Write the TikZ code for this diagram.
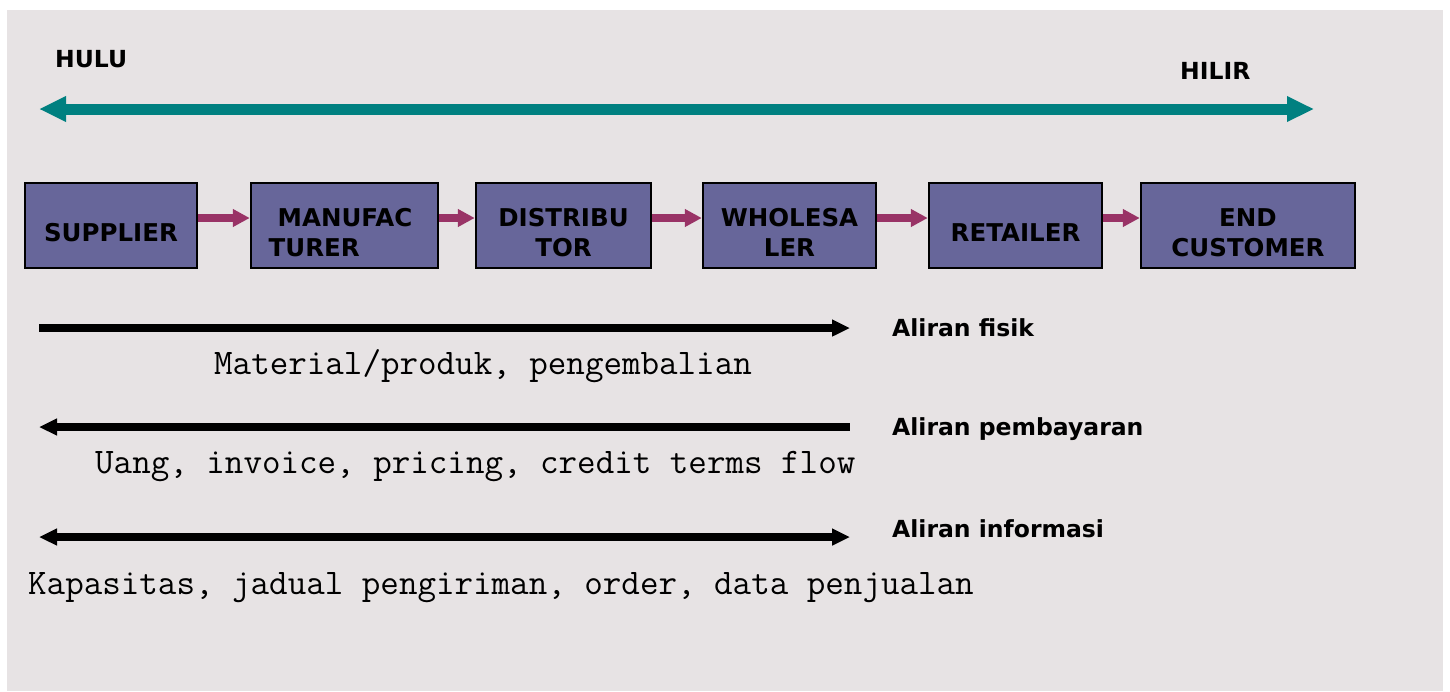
\documentclass[tikz,border=0pt]{standalone}
\usepackage{fontspec}
\setmainfont{DejaVu Sans}
\usetikzlibrary{arrows.meta}
\definecolor{panel}{HTML}{E7E3E4}
\definecolor{axisteal}{HTML}{008080}
\definecolor{flowpink}{HTML}{993366}
\definecolor{boxfill}{HTML}{67669A}
\tikzset{
  flowtip/.tip={Triangle[length=18pt,width=16pt]},
  axistip/.tip={Triangle[length=27pt,width=24pt]},
  stagebox/.style={draw=black, line width=2.5pt, fill=boxfill, inner sep=0pt},
  stagetext/.style={font=\fontsize{24.5}{30}\selectfont\bfseries, align=center, inner sep=0pt},
  steplink/.style={draw=flowpink, line width=8pt, -{Triangle[length=17pt,width=17pt]}},
  flowline/.style={draw=black, line width=8pt},
  flowname/.style={font=\fontsize{23.5}{26}\selectfont\bfseries, anchor=base west, inner sep=0pt},
  flowdesc/.style={font=\fontsize{36}{38}\selectfont\ttfamily, anchor=base west, inner sep=0pt},
  endlabel/.style={font=\fontsize{23.5}{26}\selectfont\bfseries, anchor=base west, inner sep=0pt}
}
\begin{document}
\begin{tikzpicture}[x=1pt,y=-1pt]
\useasboundingbox (0,0) rectangle (1450,691);
\fill[white] (0,0) rectangle (1450,691);
\fill[panel] (7,10) rectangle (1443,691);

% upstream / downstream axis
\node[endlabel] (hulu) at (55,67) {HULU};
\node[endlabel] (hilir) at (1180,79) {HILIR};
\coordinate (axL) at (39,109);
\coordinate (axR) at (1314,109);
\draw[axisteal, line width=11pt, {axistip}-{axistip}] (axL) -- (axR);

% supply chain stages
\node[stagebox, minimum width=172pt, minimum height=85pt] (sup) at (111,225.5) {};
\node[stagebox, minimum width=187pt, minimum height=85pt] (man) at (344.5,225.5) {};
\node[stagebox, minimum width=175pt, minimum height=85pt] (dis) at (563.5,225.5) {};
\node[stagebox, minimum width=173pt, minimum height=85pt] (who) at (789.5,225.5) {};
\node[stagebox, minimum width=173pt, minimum height=85pt] (ret) at (1015.5,225.5) {};
\node[stagebox, minimum width=214pt, minimum height=85pt] (cus) at (1248,225.5) {};

\node[stagetext] (supt) at ([yshift=-7pt]sup.center) {SUPPLIER};
\node[stagetext, align=left] (mant) at ([xshift=-4pt,yshift=-7pt]man.center) {\hspace*{9pt}MANUFAC\\TURER};
\node[stagetext] (dist) at ([yshift=-7pt]dis.center) {DISTRIBU\\TOR};
\node[stagetext] (whot) at ([yshift=-7pt]who.center) {WHOLESA\\LER};
\node[stagetext] (rett) at ([yshift=-7pt]ret.center) {RETAILER};
\node[stagetext] (cust) at ([yshift=-7pt]cus.center) {END\\CUSTOMER};

\draw[steplink] ([yshift=7.5pt]sup.east) -- ([yshift=7.5pt]man.west);
\draw[steplink] ([yshift=7.5pt]man.east) -- ([yshift=7.5pt]dis.west);
\draw[steplink] ([yshift=7.5pt]dis.east) -- ([yshift=7.5pt]who.west);
\draw[steplink] ([yshift=7.5pt]who.east) -- ([yshift=7.5pt]ret.west);
\draw[steplink] ([yshift=7.5pt]ret.east) -- ([yshift=7.5pt]cus.west);

% flows
\coordinate (fisL) at (39,328);
\coordinate (fisR) at (850,328);
\draw[flowline, -{flowtip}] (fisL) -- (fisR);
\node[flowname] (fisn) at (892,336) {Aliran fisik};
\node[flowdesc] (fisd) at (214,374) {Material/produk, pengembalian};

\coordinate (bayL) at (39,427);
\coordinate (bayR) at (850,427);
\draw[flowline, {flowtip}-] (bayL) -- (bayR);
\node[flowname] (bayn) at (892,435) {Aliran pembayaran};
\node[flowdesc] (bayd) at (95,473) {Uang, invoice, pricing, credit terms flow};

\coordinate (infL) at (39,537);
\coordinate (infR) at (850,537);
\draw[flowline, {flowtip}-{flowtip}] (infL) -- (infR);
\node[flowname] (infn) at (892,537) {Aliran informasi};
\node[flowdesc] (infd) at (28,594) {Kapasitas, jadual pengiriman, order, data penjualan};
\end{tikzpicture}
\end{document}
